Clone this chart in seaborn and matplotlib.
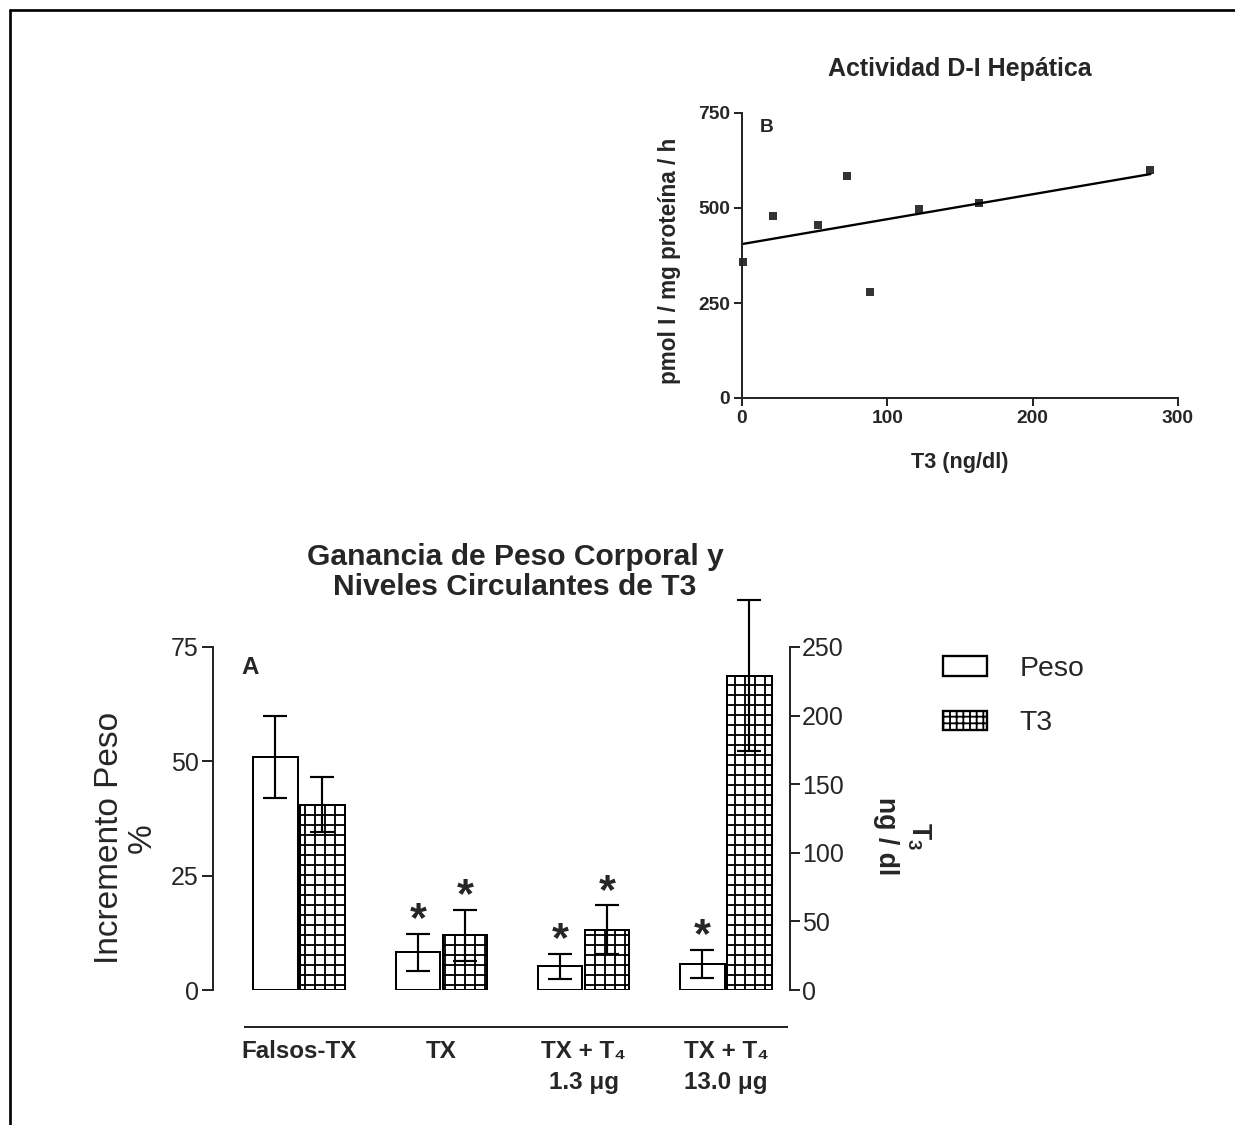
import matplotlib
matplotlib.use("Agg")
import matplotlib.pyplot as plt
import matplotlib.patches as mpatches
from matplotlib.lines import Line2D
import pandas as pd
import seaborn as sns

# Panel B: hepatic type I deiodinase activity against circulating T3
t3_ngdl = [1, 21, 52, 72, 88, 122, 163, 281]
di_actividad = [358, 479, 455, 584, 279, 497, 513, 600]

# Panel A: body weight gain and circulating T3 for each group
grupos = ["Falsos-TX", "TX", "TX + T₄\n1.3 μg", "TX + T₄\n13.0 μg"]
peso_media = [51.0, 8.2, 5.2, 5.7]
peso_err = [9.0, 4.1, 2.7, 3.1]
t3_media = [135, 40, 44, 229]
t3_err = [20, 18.5, 17.7, 55]
peso_signif = [False, True, True, True]
t3_signif = [False, True, True, False]

sns.set_style("ticks")
plt.rcParams["font.family"] = ["Liberation Sans", "DejaVu Sans"]
plt.rcParams["mathtext.fontset"] = "custom"
plt.rcParams["mathtext.rm"] = "Liberation Sans"
plt.rcParams["mathtext.bf"] = "Liberation Sans:bold"
plt.rcParams["hatch.linewidth"] = 1.1
plt.rcParams["axes.linewidth"] = 1.2

W, H, DPI = 1235, 1125, 120
fig = plt.figure(figsize=(W / DPI, H / DPI), dpi=DPI)
fig.patch.set_facecolor("white")

# page frame (top and left edges)
fig.add_artist(Line2D([10 / W, 10 / W], [0, 1 - 10 / H], transform=fig.transFigure,
                      color="black", lw=1.6))
fig.add_artist(Line2D([10 / W, 1], [1 - 10 / H, 1 - 10 / H], transform=fig.transFigure,
                      color="black", lw=1.6))

# ---------------- Panel B ----------------
ax_b = fig.add_axes([742 / W, 1 - 398 / H, 436 / W, 285 / H])
sns.regplot(x=t3_ngdl, y=di_actividad, ax=ax_b, ci=None, marker="s", color="black",
            scatter_kws=dict(s=26, linewidths=0, clip_on=False),
            line_kws=dict(lw=1.4))
ax_b.set_xlim(0, 300)
ax_b.set_ylim(0, 750)
ax_b.set_xticks([0, 100, 200, 300])
ax_b.set_yticks([0, 250, 500, 750])
sns.despine(ax=ax_b)
ax_b.tick_params(axis="both", length=5, width=1.2, labelsize=11.5, pad=2)
for lab in ax_b.get_xticklabels() + ax_b.get_yticklabels():
    lab.set_fontweight("bold")
ax_b.set_title("Actividad D-I Hepática", fontsize=15, fontweight="bold", pad=22)
ax_b.set_xlabel("T3 (ng/dl)", fontsize=13, fontweight="bold")
ax_b.xaxis.set_label_coords(0.5, -0.19)
ax_b.set_ylabel("pmol I / mg proteína / h", fontsize=13.5, fontweight="bold")
ax_b.yaxis.set_label_coords(-0.14, 0.48)
ax_b.text(0.057, 0.95, "B", transform=ax_b.transAxes, fontsize=11.5,
          fontweight="bold", ha="center", va="center")

# ---------------- Panel A ----------------
df_peso = pd.DataFrame({"grupo": grupos, "valor": peso_media, "serie": "Peso"})
df_t3 = pd.DataFrame({"grupo": grupos, "valor": t3_media, "serie": "T3"})

ax_a = fig.add_axes([213 / W, 1 - 990 / H, 577 / W, 343 / H])
ax_t3 = ax_a.twinx()

bar_kw = dict(x="grupo", y="valor", hue="serie", hue_order=["Peso", "T3"], order=grupos,
              palette={"Peso": "white", "T3": "white"}, width=0.66, gap=0.06,
              dodge=True, edgecolor="black", linewidth=1.2, errorbar=None,
              legend=False, saturation=1)
sns.barplot(data=df_peso, ax=ax_a, **bar_kw)
sns.barplot(data=df_t3, ax=ax_t3, hatch="++", **bar_kw)

ax_a.set_xlim(-0.604, 3.45)
ax_a.set_ylim(0, 75)
ax_t3.set_ylim(0, 250)
ax_a.set_yticks([0, 25, 50, 75])
ax_t3.set_yticks([0, 50, 100, 150, 200, 250])

x_peso = [p.get_x() + p.get_width() / 2 for p in ax_a.patches]
x_t3 = [p.get_x() + p.get_width() / 2 for p in ax_t3.patches]

err_kw = dict(fmt="none", ecolor="black", elinewidth=1.3, capsize=7, capthick=1.3,
              clip_on=False, zorder=4)
ax_a.errorbar(x_peso, peso_media, yerr=peso_err, **err_kw)
ax_t3.errorbar(x_t3, t3_media, yerr=t3_err, **err_kw)

star_kw = dict(textcoords="offset points", xytext=(0, 1.5), ha="center", va="baseline",
               fontsize=26, fontweight="bold", annotation_clip=False)
for x, m, e, s in zip(x_peso, peso_media, peso_err, peso_signif):
    if s:
        ax_a.annotate("*", xy=(x, m + e), **star_kw)
for x, m, e, s in zip(x_t3, t3_media, t3_err, t3_signif):
    if s:
        ax_t3.annotate("*", xy=(x, m + e), **star_kw)

# spines
for side in ["top", "right"]:
    ax_a.spines[side].set_visible(False)
for side in ["top", "left", "bottom"]:
    ax_t3.spines[side].set_visible(False)
ax_a.spines["bottom"].set_position(("outward", 22))
ax_a.spines["bottom"].set_bounds(-0.379, 3.43)

ax_a.tick_params(axis="y", length=6.5, width=1.2, labelsize=15, pad=2)
ax_t3.tick_params(axis="y", length=6, width=1.2, labelsize=15, pad=1)
ax_a.tick_params(axis="x", length=0, labelsize=14.5, pad=8)
for lab in ax_a.get_xticklabels():
    lab.set_fontweight("bold")
    lab.set_linespacing(1.45)
    lab.set_verticalalignment("top")

ax_a.set_xlabel("")
ax_t3.set_xlabel("")
ax_a.set_ylabel("Incremento Peso\n%", fontsize=20, linespacing=1.1)
ax_a.yaxis.set_label_coords(-0.095, 0.443)
ax_t3.set_ylabel(r"T$_\mathbf{3}$" + "\nng / dl", fontsize=16, fontweight="bold",
                 rotation=270, va="bottom", linespacing=1.3)
ax_t3.yaxis.set_label_coords(1.143, 0.45)

ax_a.text(0.064, 0.939, "A", transform=ax_a.transAxes, fontsize=14.5,
          fontweight="bold", ha="center", va="center")

fig.text(515 / W, 1 - 572 / H, "Ganancia de Peso Corporal y\nNiveles Circulantes de T3",
         ha="center", va="center", fontsize=18, fontweight="bold", linespacing=1.1)

handles = [mpatches.Patch(facecolor="white", edgecolor="black", lw=1.4, label="Peso"),
           mpatches.Patch(facecolor="white", edgecolor="black", lw=1.4, hatch="+++",
                          label="T3")]
fig.legend(handles=handles, loc="upper left", bbox_to_anchor=(943 / W, 1 - 656 / H),
           frameon=False, fontsize=17, handlelength=1.55, handleheight=0.7,
           handletextpad=1.15, labelspacing=1.0, borderpad=0, borderaxespad=0)

fig.savefig("out.png", dpi=DPI, facecolor="white")
